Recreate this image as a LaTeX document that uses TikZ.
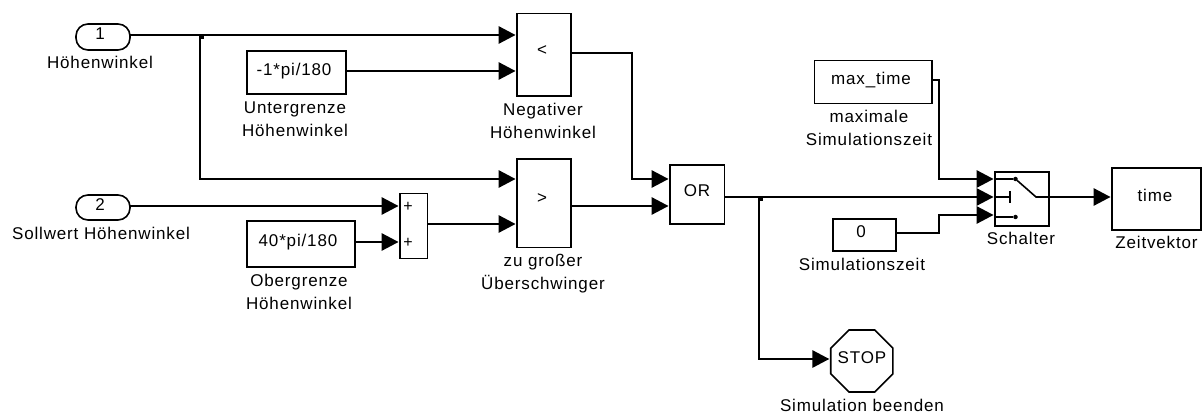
\documentclass[tikz,border=0pt]{standalone}
\usepackage{fontspec}
\setmainfont[LetterSpace=5]{Liberation Sans}
\usetikzlibrary{arrows.meta,shapes.geometric}
\tikzset{
  x=1pt,y=-1pt,
  block/.style={draw=black,line width=1.6pt,fill=white,inner sep=0pt,outer sep=0pt},
  pill/.style={block,rounded corners=12pt},
  lab/.style={anchor=base,inner sep=0pt,outer sep=0pt,align=center,text=black,yshift=-0.8pt,font=\fontsize{17}{23}\selectfont},
  sgn/.style={anchor=center,inner sep=0pt,font=\fontsize{16}{16}\selectfont},
  wire/.style={line width=1.6pt,draw=black,line join=miter},
  arr/.style={wire,-{Triangle[length=17pt,width=17.5pt]},shorten >=1.5pt},
  junction/.style={fill=black,inner sep=0pt,outer sep=0pt,minimum size=4pt},
  swdot/.style={circle,fill=black,inner sep=0pt,outer sep=0pt,minimum size=4.5pt}
}
\begin{document}
\begin{tikzpicture}
\useasboundingbox (0,0) rectangle (1202,414);
% blocks
\node[pill,minimum width=54pt,minimum height=26pt] (in1) at (103,37) {};
\node[pill,minimum width=54pt,minimum height=25pt] (in2) at (103,207.5) {};
\node[block,minimum width=99pt,minimum height=43pt] (c1) at (296.5,72.5) {};
\node[block,minimum width=108pt,minimum height=46pt] (c2) at (301,244) {};
\node[block,minimum width=27.5pt,minimum height=65pt] (sum) at (413.75,226) {};
\node[block,minimum width=54pt,minimum height=82.5pt] (lt) at (544,54.75) {};
\node[block,minimum width=54pt,minimum height=88.5pt] (gt) at (544,203.25) {};
\node[block,minimum width=54.5pt,minimum height=59pt] (or) at (697.25,194.5) {};
\node[block,minimum width=117.5pt,minimum height=43pt] (mt) at (873.25,82) {};
\node[block,minimum width=63pt,minimum height=32pt] (zero) at (864.5,235) {};
\node[block,minimum width=54pt,minimum height=54pt] (sw) at (1022,199) {};
\node[block,minimum width=89pt,minimum height=62pt] (tm) at (1156.5,199) {};
\node[block,regular polygon,regular polygon sides=8,minimum size=67.2pt] (st) at (861.8,361) {};
% block texts
\node[lab] (in1t) at (100,39) {1};
\node[lab] (in2t) at (100,210) {2};
\node[lab] (c1t) at (294,75) {-1*pi/180};
\node[lab] (c2t) at (298,246) {40*pi/180};
\node[sgn] (p1) at (408,206.5) {+};
\node[sgn] (p2) at (408,242.5) {+};
\node[lab] (ltt) at (542,55) {<};
\node[lab] (gtt) at (542,203) {>};
\node[lab] (ort) at (697,196) {OR};
\node[lab] (mtt) at (871,84) {max\_time};
\node[lab] (zt) at (861,237) {0};
\node[lab] (tmt) at (1155,201) {time};
\node[lab] (stt) at (862,363) {STOP};
% labels
\node[lab] (l1) at (100,68) {Höhenwinkel};
\node[lab] (l2) at (101,238.7) {Sollwert Höhenwinkel};
\node[lab] (l3) at (295,136) {Untergrenze\\Höhenwinkel};
\node[lab] (l4) at (299,308.7) {Obergrenze\\Höhenwinkel};
\node[lab] (l5) at (543,138) {Negativer\\Höhenwinkel};
\node[lab] (l6) at (543,289) {zu großer\\Überschwinger};
\node[lab] (l7) at (869,145) {maximale\\Simulationszeit};
\node[lab] (l8) at (862,270) {Simulationszeit};
\node[lab] (l9) at (1021,244) {Schalter};
\node[lab] (l10) at (1156.5,248) {Zeitvektor};
\node[lab] (l11) at (862,411) {Simulation beenden};
% junctions
\node[junction] (j1) at (202,37) {};
\node[junction] (j2) at (761,199) {};
% wires
\draw[arr] (in1.east |- 0,35) -- (lt.west |- 0,35);
\draw[arr] (j1.north west) -- (j1.north west |- 0,179) -- (gt.west |- 0,179);
\draw[arr] (c1.east |- 0,71) -- (lt.west |- 0,71);
\draw[arr] (in2.east |- 0,206) -- (sum.west |- 0,206);
\draw[arr] (c2.east |- 0,242) -- (sum.west |- 0,242);
\draw[arr] (sum.east |- 0,224) -- (gt.west |- 0,224);
\draw[arr] (lt.east |- 0,53) -| (632,179) -- (or.west |- 0,179);
\draw[arr] (gt.east |- 0,206) -- (or.west |- 0,206);
\draw[arr] (or.east |- 0,197) -- (sw.west |- 0,197);
\draw[arr] (j2.north west) -- (j2.north west |- 0,359) -- (st.west |- 0,359);
\draw[arr] (mt.east |- 0,80) -| (939,179) -- (sw.west |- 0,179);
\draw[arr] (zero.east |- 0,233) -| (939,215) -- (sw.west |- 0,215);
\draw[arr] (sw.east |- 0,197) -- (tm.west |- 0,197);
% switch symbol
\node[swdot] (d1) at (1015.5,179) {};
\node[swdot] (d2) at (1015.5,217) {};
\draw[wire] (sw.west |- d1) -- (d1) -- (1036,197) -- (sw.east |- 0,197);
\draw[wire] (sw.west |- d2) -- (d2);
\draw[wire] (sw.west |- 0,197) -- (1010,197);
\draw[wire] (1010,191) -- (1010,203);
\end{tikzpicture}
\end{document}
